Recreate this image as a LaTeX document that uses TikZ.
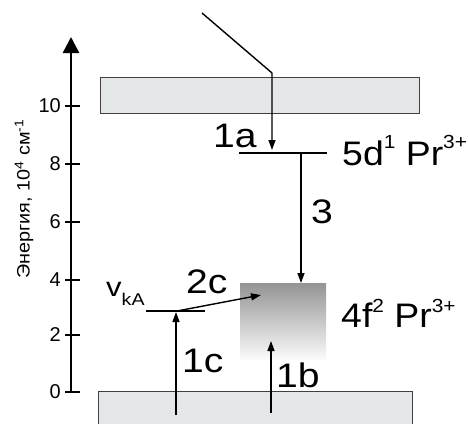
\documentclass[tikz,border=0pt]{standalone}
\usepackage{fontspec}
\setmainfont{Liberation Sans}
\newfontfamily\labf[FakeStretch=1.15]{Liberation Sans}
\newfontfamily\prf[FakeStretch=1.1]{Liberation Sans}
\newfontfamily\axf[FakeStretch=1.1]{Liberation Sans}
\usetikzlibrary{arrows.meta}
\definecolor{bandgray}{RGB}{227,231,231}
\newcommand\upsc[2]{\raisebox{#1}{\fontsize{19}{19}\selectfont #2}}
\newcommand\dnsc[1]{\raisebox{-9pt}{\fontsize{17}{17}\selectfont #1}}
\begin{document}
\begin{tikzpicture}[x=1pt,y=-1pt,
  band/.style={draw=black!75, fill=bandgray, line width=0.8pt, inner sep=0pt, minimum height=36pt},
  lvl/.style={line width=2.6pt},
  arr/.style={line width=1.4pt, -{Triangle[length=10pt,width=7pt]}},
  big/.style={font=\labf\fontsize{34}{34}\selectfont, inner sep=0pt, anchor=base west},
  prlab/.style={font=\prf\fontsize{34}{34}\selectfont, inner sep=0pt, anchor=base west},
  axtick/.style={line width=2.5pt},
  ticklab/.style={font=\fontsize{20}{20}\selectfont, inner sep=0pt, anchor=east}]
\useasboundingbox (0,0) rectangle (468,423);
% bands
\node[band, minimum width=319pt] (topband) at (259.5,95) {};
\node[band, minimum width=314pt, minimum height=40pt] (botband) at (255,411) {};
% 4f2 manifold
\node[inner sep=0pt, minimum width=86pt, minimum height=76pt, top color=black!42, bottom color=black!2] (ffour) at (283,321) {};
% axis
\coordinate (ax0) at (71,392);
\coordinate (axtop) at (71,37);
\draw[line width=2.5pt, -{Triangle[length=16pt,width=16pt]}] (ax0) -- (axtop);
\foreach \v/\yy in {0/392,2/335,4/280,6/222,8/164,10/106}{
  \draw[axtick] (65,\yy) -- (80,\yy);
  \node[ticklab] (t\v) at (61,\yy) {\v};
}
\node[rotate=90, font=\axf\fontsize{18}{18}\selectfont, inner sep=0pt] (ylab) at (24,199) {Энергия, 10\textsuperscript{4} см\textsuperscript{-1}};
% levels
\coordinate (dL) at (239,153);
\coordinate (dR) at (327,153);
\draw[lvl] (dL) -- (dR);
\coordinate (vL) at (146,311);
\coordinate (vR) at (205,311);
\draw[lvl] (vL) -- (vR);
% arrows
\coordinate (inc) at (202,13);
\coordinate (bend) at (272,73);
\coordinate (inctip) at (272,150);
\draw[arr] (inc) -- (bend) -- (inctip);
\coordinate (s3) at (301,153);
\coordinate (e3) at (301,283);
\draw[arr] (s3) -- (e3);
\coordinate (s2c) at (177,311);
\coordinate (e2c) at (261,295);
\draw[arr] (s2c) -- (e2c);
\coordinate (s1c) at (176,415);
\coordinate (e1c) at (176,312);
\draw[arr] (s1c) -- (e1c);
\coordinate (s1b) at (271,413);
\coordinate (e1b) at (271,341);
\draw[arr] (s1b) -- (e1b);
% labels
\node[big] (la) at (213,147) {1a};
\node[prlab] (ld) at (342,165) {5d\upsc{17pt}{1} Pr\upsc{17pt}{3+}};
\node[big] (l3) at (311,223) {3};
\node[prlab] (lf) at (341,327) {4f\upsc{15pt}{2} Pr\upsc{15pt}{3+}};
\node[big] (l2c) at (186,293) {2c};
\node[big] (l1c) at (182,372) {1c};
\node[big] (l1b) at (276,387) {1b};
\node[big, font=\labf\fontsize{27}{27}\selectfont] (lv) at (106,296) {v\dnsc{kA}};
\end{tikzpicture}
\end{document}
